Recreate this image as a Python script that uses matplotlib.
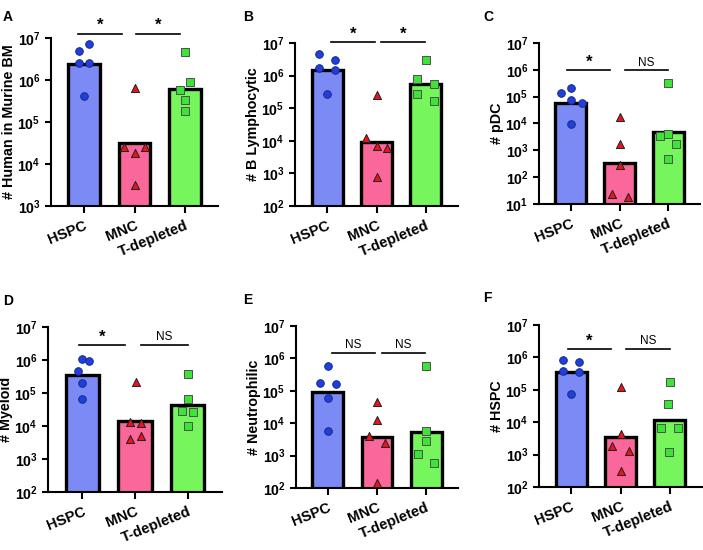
import matplotlib
matplotlib.use("Agg")
import matplotlib.pyplot as plt
import matplotlib.transforms as mtransforms
import numpy as np
from matplotlib.ticker import FixedLocator, FuncFormatter, NullLocator

plt.rcParams['font.family'] = ['Liberation Sans', 'DejaVu Sans']
plt.rcParams['font.weight'] = 'bold'
plt.rcParams['mathtext.fontset'] = 'custom'
plt.rcParams['mathtext.rm'] = 'Liberation Sans:bold'
plt.rcParams['mathtext.bf'] = 'Liberation Sans:bold'

groups = ['HSPC', 'MNC', 'T-depleted']

# panel data: bar heights and individual points (HSPC, MNC, T-depleted)
a_bars = [2.4e6, 3.2e4, 6.2e5]
a_pts = [[4.9e6, 7.2e6, 2.6e6, 2.5e6, 4.1e5],
         [6.5e5, 2.5e4, 2.5e4, 1.8e4, 3.2e3],
         [4.6e6, 8.9e5, 5.9e5, 3.3e5, 1.8e5]]
b_bars = [1.5e6, 9.3e3, 5.7e5]
b_pts = [[4.6e6, 1.7e6, 3.1e6, 1.45e6, 2.7e5],
         [2.6e5, 1.2e4, 7e3, 5.9e3, 7.8e2],
         [3.1e6, 7.8e5, 5.5e5, 2.8e5, 1.7e5]]
c_bars = [5.9e4, 3.3e2, 4.7e3]
c_pts = [[1.4e5, 2.1e5, 7.4e4, 6.0e4, 9.3e3],
         [1.7e4, 1.7e3, 2.9e2, 23, 19],
         [3.1e5, 3.4e3, 4.2e3, 1.7e3, 4.9e2]]
d_bars = [3.5e5, 1.45e4, 4.2e4]
d_pts = [[1.1e6, 9.1e5, 4.8e5, 2.0e5, 6.5e4],
         [2.1e5, 1.35e4, 1.2e4, 5.1e3, 4e3],
         [3.8e5, 6.5e4, 2.8e4, 2.6e4, 1e4]]
e_bars = [8.9e4, 3.7e3, 5.3e3]
e_pts = [[6.0e5, 1.8e5, 1.6e5, 5.9e4, 5.9e3],
         [4.4e4, 1.3e4, 4.1e3, 2.5e3, 1.4e2],
         [6.0e5, 5.6e3, 2.8e3, 1.1e3, 5.8e2]]
f_bars = [3.5e5, 3.4e3, 1.2e4]
f_pts = [[8.3e5, 7.4e5, 3.9e5, 3.5e5, 7.4e4],
         [1.2e5, 4.3e3, 1.9e3, 1.3e3, 3.2e2],
         [1.7e5, 3.6e4, 6.6e3, 6.6e3, 1.2e3]]

ylabels = ['# Human in Murine BM', '# B Lymphocytic', '# pDC',
           '# Myeloid', '# Neutrophilic', '# HSPC']
letters = ['A', 'B', 'C', 'D', 'E', 'F']
sig = [['*', '*'], ['*', '*'], ['*', 'NS'], ['*', 'NS'], ['NS', 'NS'], ['*', 'NS']]

# layout / style
jitter = [
    [[-0.1, 0.11, -0.1, 0.1, 0], [0, -0.2, 0.2, 0, 0], [0, 0.1, -0.1, 0, 0]],
    [[-0.17, -0.17, 0.16, 0.16, 0], [0, -0.22, 0, 0.22, 0], [0, -0.17, 0.17, -0.17, 0.17]],
    [[-0.2, 0, 0, 0.24, 0], [0, 0, 0, -0.16, 0.17], [0, -0.18, 0, 0.16, 0]],
    [[0, 0.12, -0.09, 0, 0], [0.01, -0.09, 0.12, 0.12, -0.09], [0, 0, -0.11, 0.1, 0]],
    [[0, -0.16, 0.16, 0, 0], [0, 0, -0.17, 0.17, 0], [0, 0, 0, -0.17, 0.16]],
    [[-0.16, 0.16, -0.16, 0.16, 0], [0, 0, -0.17, 0.17, 0], [0, -0.03, -0.18, 0.16, -0.01]],
]
ylow = [3, 2, 1, 2, 2, 2]
sig_y = [7.1, 7.02, 5.98, 6.44, 6.18, 6.25]
sig_x = [[-0.12, 1.02], [0.08, 1.1], [-0.07, 1.11], [-0.07, 1.12], [0.08, 1.1], [-0.07, 1.12]]
axpos = [[51, 38, 218, 206], [295, 43, 458, 206], [539, 43, 700, 204],
         [48, 327, 222, 492], [296, 326, 458, 488], [539, 325, 702, 487]]
letter_pos = [(3, 17), (243, 17), (483, 17), (3, 301), (243, 300), (483, 298)]

bar_colors = ['#7b8af5', '#f9679b', '#76f65c']
mk = ['o', '^', 's']
mk_face = ['#1f3fe0', '#e8141c', '#3ee33a']
mk_edge = ['#1a2a80', '#202020', '#505050']

all_bars = [a_bars, b_bars, c_bars, d_bars, e_bars, f_bars]
all_pts = [a_pts, b_pts, c_pts, d_pts, e_pts, f_pts]

W, H = 703, 550
fig = plt.figure(figsize=(W / 100, H / 100), dpi=100)
x = np.arange(3)
shift = [5, 2, 1]

for k in range(6):
    l, t, r, b = axpos[k]
    ax = fig.add_axes([l / W, 1 - b / H, (r - l) / W, (b - t) / H])
    ax.bar(x, all_bars[k], width=0.63, color=bar_colors, edgecolor='black',
           linewidth=2.4, zorder=2)
    for g in range(3):
        ax.scatter(x[g] + np.array(jitter[k][g]), all_pts[k][g], marker=mk[g],
                   s=30 if g != 1 else 34, facecolor=mk_face[g],
                   edgecolor=mk_edge[g], linewidth=0.7, zorder=3, clip_on=False)
    ax.set_yscale('log')
    ax.set_ylim(10 ** ylow[k], 1e7)
    ax.set_xlim(-0.65, 2.65)
    ax.yaxis.set_major_locator(FixedLocator([10.0 ** p for p in range(ylow[k], 8)]))
    ax.yaxis.set_minor_locator(NullLocator())
    ax.yaxis.set_major_formatter(FuncFormatter(
        lambda v, pos: r'$\mathbf{10^{%d}}$' % round(np.log10(v))))
    ax.set_xticks(x)
    ax.set_xticklabels(groups, rotation=22, ha='right', rotation_mode='anchor',
                       fontsize=10.5, fontweight='bold')
    for lab, dx in zip(ax.get_xticklabels(), shift):
        lab.set_transform(lab.get_transform() +
                          mtransforms.ScaledTranslation(dx / 100, 0, fig.dpi_scale_trans))
    ax.tick_params(axis='y', labelsize=10.2, width=1.5, length=4, pad=3.5)
    ax.tick_params(axis='x', width=1.5, length=5, pad=4)
    for s in ['top', 'right']:
        ax.spines[s].set_visible(False)
    for s in ['left', 'bottom']:
        ax.spines[s].set_linewidth(1.5)
    ax.set_ylabel(ylabels[k], fontsize=10.3, fontweight='bold', labelpad=1)

    # significance bars
    yl = 10 ** sig_y[k]
    for j in range(2):
        x0 = sig_x[k][j]
        ax.plot([x0, x0 + 0.88], [yl, yl], color='black', lw=1.2,
                clip_on=False, zorder=4)
        if sig[k][j] == '*':
            ax.text(x0 + 0.44, yl * 1.05, '*', ha='center', va='bottom',
                    fontsize=12, fontweight='bold')
        else:
            ax.text(x0 + 0.44, yl * 1.15, 'NS', ha='center', va='bottom',
                    fontsize=8.5, fontweight='normal')

    fig.text(letter_pos[k][0] / W, 1 - letter_pos[k][1] / H, letters[k],
             fontsize=10, fontweight='bold', va='center', ha='left')

fig.savefig('out.png', dpi=100)
